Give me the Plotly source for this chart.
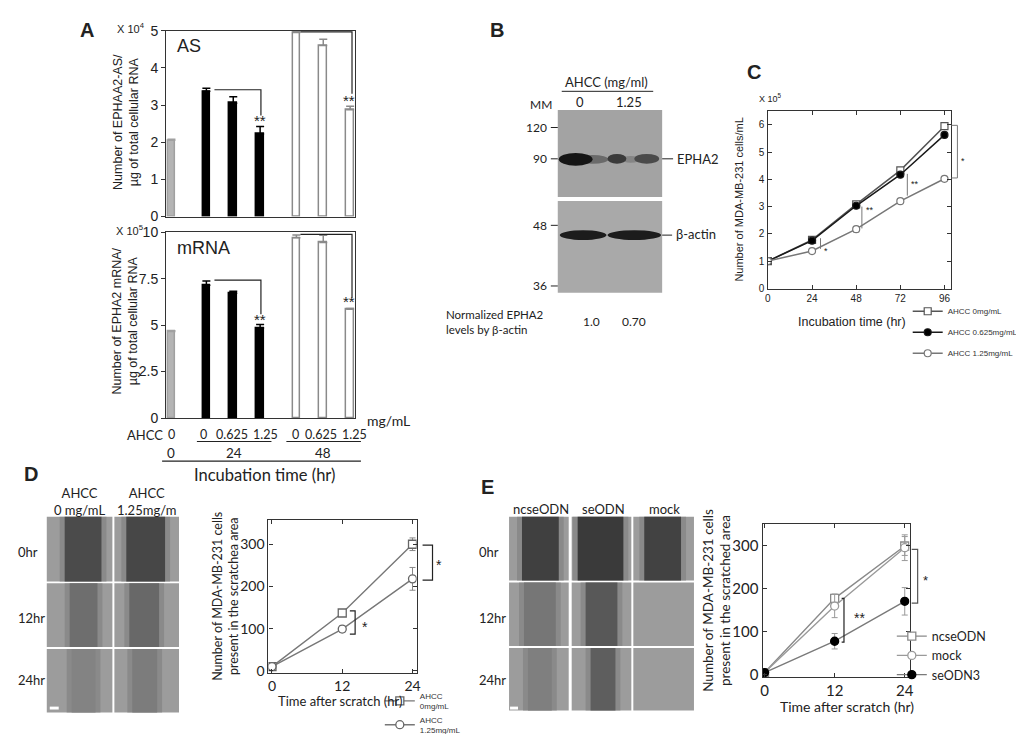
"""EPHA2 / AHCC multi-panel figure (panels A-E) rebuilt with plotly."""

import plotly.graph_objects as go

W, H = 1024, 734
ARIAL = "Liberation Sans, Arial, sans-serif"
CALIBRI = "Lato, Open Sans, sans-serif"

# ---------------- data ----------------
# A: copies per ug total RNA (AS in 1e4, mRNA in 1e5); 0 hr control, 24 hr, 48 hr
a_doses = ["0", "0.625", "1.25"]
a_times = ["0", "24", "48"]
as_ctrl = [2.05]
as_24h = [3.37, 3.05, 2.22]
as_48h = [4.95, 4.60, 2.87]
as_ctrl_err = [0.03]
as_24h_err = [0.08, 0.17, 0.20]
as_48h_err = [0.04, 0.17, 0.10]
mrna_ctrl = [4.65]
mrna_24h = [7.15, 6.72, 4.85]
mrna_48h = [9.70, 9.45, 5.85]
mrna_ctrl_err = [0.05]
mrna_24h_err = [0.22, 0.10, 0.18]
mrna_48h_err = [0.15, 0.38, 0.05]

# B: western blot
b_lanes = ["0", "1.25"]
b_norm = ["1.0", "0.70"]
b_markers = ["120", "90", "48", "36"]

# C: proliferation, x 10^5 cells/mL
c_hours = [0, 24, 48, 72, 96]
c_names = ["AHCC 0mg/mL", "AHCC 0.625mg/mL", "AHCC 1.25mg/mL"]
c_0 = [1.0, 1.78, 3.08, 4.33, 5.95]
c_0625 = [1.0, 1.75, 3.03, 4.17, 5.63]
c_125 = [1.0, 1.37, 2.17, 3.20, 4.02]
c_0_err = [0.03, 0.05, 0.08, 0.06, 0.08]
c_0625_err = [0.03, 0.04, 0.05, 0.05, 0.06]
c_125_err = [0.03, 0.04, 0.10, 0.05, 0.05]

# D: scratch assay with AHCC
d_hours = [0, 12, 24]
d_names = ["AHCC<br>0mg/mL", "AHCC<br>1.25mg/mL"]
d_0 = [10, 137, 300]
d_125 = [10, 99, 218]
d_0_err = [3, 8, 15]
d_125_err = [3, 8, 27]
d_cols = ["AHCC<br>0 mg/mL", "AHCC<br>1.25mg/m"]
d_rows = ["0hr", "12hr", "24hr"]

# E: scratch assay with ODNs
e_hours = [0, 12, 24]
e_names = ["ncseODN", "mock", "seODN3"]
e_ncse = [5, 178, 300]
e_mock = [5, 160, 296]
e_se3 = [5, 78, 171]
e_ncse_err = [3, 10, 22]
e_mock_err = [3, 27, 30]
e_se3_err = [3, 18, 32]
e_cols = ["ncseODN", "seODN", "mock"]
e_rows = ["0hr", "12hr", "24hr"]


# ---------------- helpers ----------------
def dom_x(a, b):
    return [a / W, b / W]


def dom_y(top, bottom):
    return [1 - bottom / H, 1 - top / H]


shapes = []
annotations = []


def rect(x0, y0, x1, y1, fill, kind="rect", opacity=1.0):
    shapes.append(dict(type=kind, xref="paper", yref="paper",
                       x0=x0 / W, x1=x1 / W, y0=1 - y1 / H, y1=1 - y0 / H,
                       fillcolor=fill, line=dict(width=0), opacity=opacity))


def seg(x0, y0, x1, y1, color="#222", width=1.2):
    shapes.append(dict(type="line", xref="paper", yref="paper",
                       x0=x0 / W, x1=x1 / W, y0=1 - y0 / H, y1=1 - y1 / H,
                       line=dict(color=color, width=width)))


def data_path(points, xref, yref, color="#222", width=1.2):
    # points given as (x, y); xref may be "paper" with x in pixels
    conv = []
    for x, y in points:
        conv.append((x / W if xref == "paper" else x, y))
    path = "M " + " L ".join(f"{x},{y}" for x, y in conv)
    shapes.append(dict(type="path", xref=xref, yref=yref, path=path,
                       line=dict(color=color, width=width)))


def label(text, x, y, size=12, family=ARIAL, color="#222", xanchor="center",
          angle=0, xref="paper", yref="paper", align="center"):
    annotations.append(dict(
        text=text, showarrow=False, textangle=angle, align=align,
        x=x / W if xref == "paper" else x,
        y=1 - y / H if yref == "paper" else y,
        xref=xref, yref=yref, xanchor=xanchor, yanchor="middle",
        font=dict(size=size, family=family, color=color)))


def group_x(start, n):
    return [start + i for i in range(n)]


fig = go.Figure()

# ---------------- panel A ----------------
x_ctrl = group_x(0, 1)
x_24 = group_x(1.3, 3)
x_48 = group_x(4.65, 3)


def add_bars(xs, ys, err, fill, edge, axis):
    fig.add_trace(go.Bar(
        x=xs, y=ys, width=0.28, xaxis="x" + axis, yaxis="y" + axis,
        marker=dict(color=fill, line=dict(color=edge, width=1.5)),
        error_y=dict(type="data", symmetric=False, array=err,
                     arrayminus=[0] * len(err), color=edge, thickness=1.5, width=4),
        showlegend=False, hoverinfo="y"))


for ax, ctrl, g24, g48, ectrl, e24, e48 in [
        ("", as_ctrl, as_24h, as_48h, as_ctrl_err, as_24h_err, as_48h_err),
        ("2", mrna_ctrl, mrna_24h, mrna_48h, mrna_ctrl_err, mrna_24h_err, mrna_48h_err)]:
    add_bars(x_ctrl, ctrl, ectrl, "#b4b4b4", "#a0a0a0", ax)
    add_bars(x_24, g24, e24, "#000000", "#000000", ax)
    add_bars(x_48, g48, e48, "#ffffff", "#8a8a8a", ax)

bar_axis = dict(range=[-0.2, 6.83], showticklabels=False, ticks="", showgrid=False,
                zeroline=False, showline=True, linecolor="#333", linewidth=1.2, mirror=True)
val_axis = dict(showgrid=False, zeroline=False, showline=True, linecolor="#333",
                linewidth=1.2, mirror=True, ticks="outside", ticklen=4,
                tickcolor="#333", tickfont=dict(size=14, family=ARIAL, color="#222"))

# significance brackets in A (data coords)
data_path([(1.6, 3.41), (3.33, 3.41), (3.33, 2.72)], "x", "y")
data_path([(4.8, 4.97), (6.72, 4.97), (6.72, 3.3)], "x", "y")
data_path([(1.6, 7.42), (3.33, 7.42), (3.33, 5.58)], "x2", "y2")
data_path([(4.8, 9.88), (6.72, 9.88), (6.72, 6.47)], "x2", "y2")
label("**", 3.3, 2.58, 15, xref="x", yref="y")
label("**", 6.6, 3.12, 15, xref="x", yref="y")
label("**", 3.3, 5.3, 15, xref="x2", yref="y2")
label("**", 6.6, 6.25, 15, xref="x2", yref="y2")

label("<b>A</b>", 77, 14, 20)
label("X 10<sup>4</sup>", 122, 12, 11)
label("AS", 180, 31, 18)
label("X 10<sup>5</sup>", 120, 219, 11)
label("mRNA", 195, 237, 18)
label("Number of EPHAA2-AS/<br>µg of total cellular RNA", 116, 108, 12.5, angle=-90)
label("Number of EPHA2 mRNA/<br>µg of total cellular RNA", 116, 312, 12.5, angle=-90)

# dose / time table under panel A
label("mg/mL", 381, 414, 14, CALIBRI)
label("AHCC", 136, 428, 13, CALIBRI)
dose_px = [[162], [195, 223, 257], [287, 313, 347]]
for xs, doses in zip(dose_px, [a_doses[:1], a_doses, a_doses]):
    for xv, d in zip(xs, doses):
        label(d, xv, 428, 12.5, CALIBRI)
for xv, t in zip([162, 225, 315], a_times):
    label(t, xv, 447, 13.5, CALIBRI)
seg(188, 435, 263, 435)
seg(278, 435, 353, 435)
seg(153, 455, 353, 455)
label("Incubation time (hr)", 256, 469, 16.5, CALIBRI)

# ---------------- panel B (blot drawn with shapes) ----------------
label("<b>B</b>", 490, 14, 20)
label("AHCC (mg/ml)", 600, 67, 13, CALIBRI)
seg(555, 77, 647, 77, width=1)
label("MM", 534, 90, 12, CALIBRI)
for xv, t in zip([573, 623], b_lanes):
    label(t, xv, 88, 13, CALIBRI)
rect(551, 96, 656, 185, "#a3a3a3")
rect(551, 189, 656, 283, "#a9a9a9")
# EPHA2 bands
rect(570, 142, 602, 151, "#6a6a6a", "circle")
rect(552, 140, 586, 153, "#151515", "circle")
rect(615, 143, 634, 150, "#858585", "circle")
rect(601, 141, 620, 151, "#3a3a3a", "circle")
rect(628, 141, 653, 151, "#4a4a4a", "circle")
# beta-actin bands
rect(553, 219, 600, 229, "#1c1c1c", "circle")
rect(601, 219, 655, 229, "#1c1c1c", "circle")
for t, yv in zip(b_markers, [114, 146, 214, 276]):
    label(t, 542, yv, 12, CALIBRI, xanchor="right")
    seg(544, yv, 551, yv, width=1)
seg(656, 146, 667, 146, width=1)
seg(656, 224, 666, 224, width=1)
label("EPHA2", 669, 146, 13, CALIBRI, xanchor="left")
label("β-actin", 668, 223, 13, CALIBRI, xanchor="left")
label("Normalized EPHA2<br>levels by β-actin", 437, 313, 11.5, CALIBRI, xanchor="left", align="left")
for xv, t in zip([585, 628], b_norm):
    label(t, xv, 312, 12, CALIBRI)

# ---------------- panel C ----------------
c_style = [("#555555", "#ffffff", "square", 1, c_0, c_0_err),
           ("#1a1a1a", "#000000", "circle", 2, c_0625, c_0625_err),
           ("#777777", "#ffffff", "circle", 3, c_125, c_125_err)]
for (lc, fc, sym, rank, ys, err), name in zip(c_style, c_names):
    fig.add_trace(go.Scatter(
        x=c_hours, y=ys, name=name, mode="lines+markers", xaxis="x3", yaxis="y3",
        legend="legend", legendrank=rank, legendgroup=name,
        line=dict(color=lc, width=1.5),
        marker=dict(symbol=sym, size=7, color=fc, line=dict(color=lc, width=1.2)),
        error_y=dict(type="data", array=err, color=lc, thickness=1, width=3)))
label("<b>C</b>", 748, 57, 20)
label("X 10<sup>5</sup>", 765, 84, 9)
label("Number of MDA-MB-231 cells/mL", 733, 188, 11, angle=-90)
label("Incubation time (hr)", 847, 313, 12.5)
data_path([(28.6, 1.84), (28.6, 1.45)], "x3", "y3", "#777", 1)
data_path([(51.1, 3.0), (51.1, 2.2)], "x3", "y3", "#777", 1)
data_path([(75.8, 4.2), (75.8, 3.4)], "x3", "y3", "#777", 1)
data_path([(947, 5.98), (953, 5.98), (953, 4.05), (947, 4.05)], "paper", "y3", "#777", 1)
label("*", 31.5, 1.36, 9, xref="x3", yref="y3")
label("**", 55.5, 2.86, 9, xref="x3", yref="y3")
label("**", 80, 3.82, 9, xref="x3", yref="y3")
label("*", 959, 148, 9)


# ---------------- panels D and E: micrographs drawn as shaded tiles ----------------
def tile_grid(cols, rows, bands, base="#9c9c9c"):
    for ci, (x0, x1) in enumerate(cols):
        for ri, (y0, y1) in enumerate(rows):
            rect(x0, y0, x1, y1, base)
            bx0, bx1, bc = bands[ri][ci]
            if bc:
                rect(bx0 - 5, y0, bx1 + 5, y1, "#838383", opacity=0.7)
                rect(bx0, y0, bx1, y1, bc)


d_tiles_x = [(37, 103), (105, 170)]
d_tiles_y = [(512, 578), (580, 645), (647, 712)]
tile_grid(d_tiles_x, d_tiles_y, [
    [(55, 92, "#4b4b4b"), (117, 156, "#474747")],
    [(60, 88, "#6e6e6e"), (120, 150, "#686868")],
    [(62, 86, "#838383"), (123, 148, "#7c7c7c")]])
rect(40, 706, 49, 709, "#ffffff")
label("<b>D</b>", 21, 468, 20)
for xv, t in zip([70, 137], d_cols):
    label(t, xv, 496, 13, CALIBRI)
for yv, t in zip([548, 615, 679], d_rows):
    label(t, 6, yv, 13, CALIBRI, xanchor="left")

e_tiles_x = [(502, 562), (565, 625), (627, 688)]
e_tiles_y = [(512, 577), (579, 644), (646, 710)]
tile_grid(e_tiles_x, e_tiles_y, [
    [(515, 552, "#404040"), (571, 617, "#3a3a3a"), (638, 675, "#424242")],
    [(517, 549, "#767676"), (579, 611, "#585858"), (0, 0, None)],
    [(521, 545, "#7f7f7f"), (584, 609, "#5e5e5e"), (0, 0, None)]])
rect(503, 706, 511, 709, "#ffffff")
label("<b>E</b>", 480, 481, 20)
for xv, t in zip([534, 597, 658], e_cols):
    label(t, xv, 504, 13, CALIBRI)
for yv, t in zip([548, 615, 679], e_rows):
    label(t, 470, yv, 13, CALIBRI, xanchor="left")

# D plot
for ys, err, sym, name in [(d_0, d_0_err, "square", d_names[0]),
                           (d_125, d_125_err, "circle", d_names[1])]:
    fig.add_trace(go.Scatter(
        x=d_hours, y=ys, name=name, mode="lines+markers", xaxis="x4", yaxis="y4",
        legend="legend2", legendgroup=name, line=dict(color="#777", width=1.4),
        marker=dict(symbol=sym, size=8, color="#fff", line=dict(color="#666", width=1.3)),
        error_y=dict(type="data", array=err, color="#888", thickness=1, width=3)))
label("Number of MDA-MB-231 cells<br>present in the scratchea area", 216, 593, 12.5, CALIBRI, angle=-90)
label("Time after scratch (hr)", 332, 700, 13, CALIBRI)
data_path([(13.3, 142), (14.2, 142), (14.2, 87), (13.3, 87)], "x4", "y4", "#222", 1.2)
data_path([(415, 298), (425, 298), (425, 215), (415, 215)], "paper", "y4", "#222", 1.2)
label("*", 15.9, 103, 14, xref="x4", yref="y4")
label("*", 432, 561, 14)

# E plot
for ys, err, lc, fc, sym, name in [
        (e_ncse, e_ncse_err, "#8a8a8a", "#ffffff", "square", e_names[0]),
        (e_mock, e_mock_err, "#9a9a9a", "#ffffff", "circle", e_names[1]),
        (e_se3, e_se3_err, "#7a7a7a", "#000000", "circle", e_names[2])]:
    fig.add_trace(go.Scatter(
        x=e_hours, y=ys, name=name, mode="lines+markers", xaxis="x5", yaxis="y5",
        legend="legend3", legendgroup=name, line=dict(color=lc, width=1.4),
        marker=dict(symbol=sym, size=8, color=fc,
                    line=dict(color=lc if fc == "#ffffff" else "#000", width=1.3)),
        error_y=dict(type="data", array=err, color="#999", thickness=1, width=3)))
label("Number of MDA-MB-231 cells<br>present in the scratched area", 711, 597, 13.5, CALIBRI, angle=-90)
label("Time after scratch (hr)", 842, 706, 14, CALIBRI)
data_path([(13.2, 178), (13.6, 178), (13.6, 76), (13.2, 76)], "x5", "y5", "#222", 1.2)
data_path([(907, 292), (913, 292), (913, 167), (907, 167)], "paper", "y5", "#555", 1.2)
label("**", 16.2, 131, 14, xref="x5", yref="y5")
label("*", 921, 577, 13)

# ---------------- axes ----------------
line_axis = dict(showgrid=False, zeroline=False, showline=True, linecolor="#333",
                 linewidth=1.2, mirror="ticks", ticks="inside", ticklen=4, tickcolor="#333")

fig.update_layout(
    xaxis=dict(bar_axis, domain=dom_x(157, 347), anchor="y"),
    yaxis=dict(val_axis, domain=dom_y(15, 205), anchor="x", range=[0, 5], dtick=1),
    xaxis2=dict(bar_axis, domain=dom_x(157, 347), anchor="y2"),
    yaxis2=dict(val_axis, domain=dom_y(221, 411), anchor="x2", range=[0, 10],
                tickvals=[0, 2.5, 5, 7.5, 10], ticktext=["0", "2.5", "5", "7.5", "10"]),
    xaxis3=dict(line_axis, domain=dom_x(762, 947), anchor="y3", range=[-0.2, 99.8],
                tickvals=c_hours, tickfont=dict(size=10, family=ARIAL, color="#222")),
    yaxis3=dict(line_axis, domain=dom_y(97, 279), anchor="x3", range=[-0.02, 6.51], dtick=1,
                tickfont=dict(size=10, family=ARIAL, color="#222")),
    xaxis4=dict(line_axis, domain=dom_x(260, 409), anchor="y4", range=[-0.6, 24.7],
                tickvals=d_hours, tickfont=dict(size=14, family=CALIBRI, color="#222")),
    yaxis4=dict(line_axis, domain=dom_y(515, 672), anchor="x4", range=[-6, 358], dtick=100,
                tickfont=dict(size=14, family=CALIBRI, color="#222")),
    xaxis5=dict(line_axis, domain=dom_x(757, 905), anchor="y5", range=[-0.34, 24.85],
                tickvals=e_hours, tickfont=dict(size=15, family=CALIBRI, color="#222")),
    yaxis5=dict(line_axis, domain=dom_y(519, 676), anchor="x5", range=[-6, 352], dtick=100,
                tickfont=dict(size=15, family=CALIBRI, color="#222")),
    legend=dict(x=903 / W, y=1 - 287 / H, xanchor="left", yanchor="top",
                font=dict(size=8, family=ARIAL, color="#333"), tracegroupgap=2,
                bgcolor="rgba(0,0,0,0)"),
    legend2=dict(x=372 / W, y=1 - 683 / H, xanchor="left", yanchor="top",
                 font=dict(size=8, family=ARIAL, color="#333"), tracegroupgap=0,
                 bgcolor="rgba(0,0,0,0)"),
    legend3=dict(x=887 / W, y=1 - 619 / H, xanchor="left", yanchor="top",
                 font=dict(size=12.5, family=CALIBRI, color="#222"), tracegroupgap=0,
                 bgcolor="rgba(0,0,0,0)"),
    shapes=shapes,
    annotations=annotations,
    width=W, height=H,
    margin=dict(l=0, r=0, t=0, b=0),
    paper_bgcolor="#ffffff", plot_bgcolor="rgba(0,0,0,0)",
    bargap=0,
)

fig.write_html("out.html")
